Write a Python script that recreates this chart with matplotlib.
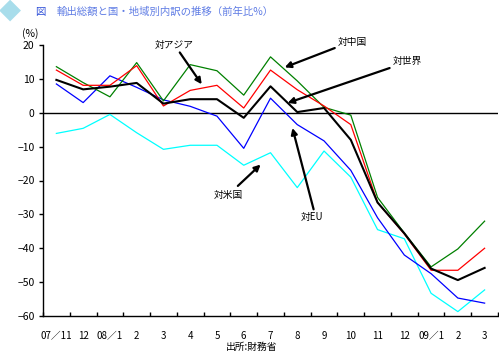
import matplotlib
matplotlib.use('Agg')
import matplotlib.pyplot as plt
import numpy as np

# 日本語フォント
plt.rcParams['font.family'] = ['Noto Sans CJK JP', 'DejaVu Sans']
plt.rcParams['axes.unicode_minus'] = True

# 月ラベル
months = ['07／11', '12', '08／1', '2', '3', '4', '5', '6', '7', '8', '9',
          '10', '11', '12', '09／1', '2', '3']

# 前年比(%)
china = [13.6, 8.9, 4.7, 14.8, 3.5, 14.2, 12.4, 5.2, 16.5, 9.4, 1.6, -0.7,
         -25.0, -35.5, -45.5, -40.2, -32.0]
asia = [12.6, 8.1, 8.1, 13.9, 2.0, 6.6, 8.1, 1.4, 12.6, 6.8, 2.0, -3.5,
        -26.5, -35.8, -46.5, -46.5, -40.0]
world = [9.7, 6.9, 7.7, 8.8, 2.7, 4.0, 4.0, -1.5, 7.8, 0.2, 1.4, -8.0,
         -26.5, -35.6, -46.0, -49.4, -45.8]
eu = [8.5, 3.0, 10.9, 7.5, 3.8, 1.9, -1.0, -10.5, 4.3, -3.5, -8.3, -17.0,
      -31.0, -42.0, -47.5, -54.7, -56.2]
usa = [-6.1, -4.6, -0.5, -5.9, -10.8, -9.6, -9.6, -15.5, -11.8, -22.1, -11.3,
       -19.0, -34.5, -37.2, -53.3, -58.7, -52.3]

x = np.arange(len(months))

fig = plt.figure(figsize=(4.99, 3.52), dpi=100)
ax = fig.add_axes([43 / 499, 36 / 352, 455 / 499, 271 / 352])

ax.axhline(0, color='black', lw=1.0, zorder=1)
ax.plot(x, usa, color='#00FFFF', lw=0.9, zorder=2)
ax.plot(x, eu, color='#0000FF', lw=0.9, zorder=3)
ax.plot(x, china, color='#008000', lw=0.9, zorder=4)
ax.plot(x, asia, color='#FF0000', lw=0.9, zorder=5)
ax.plot(x, world, color='black', lw=1.5, zorder=6)

ax.set_xlim(-0.5, len(months) - 0.5)
ax.set_ylim(-60, 20)
ax.set_yticks(np.arange(-60, 21, 10))
ax.set_xticks(x)
ax.set_xticklabels(months)
ax.set_xticks(np.arange(-0.5, len(months), 1.0), minor=True)
ax.tick_params(axis='x', which='major', length=0, pad=11, labelsize=7)
ax.tick_params(axis='x', which='minor', direction='in', length=3, width=1)
ax.tick_params(axis='y', direction='out', length=3, width=1, pad=3, labelsize=7.5)

for s in ['top', 'right']:
    ax.spines[s].set_visible(False)
for s in ['left', 'bottom']:
    ax.spines[s].set_linewidth(1.0)

# 注記と矢印
labels = [
    ('対アジア', (4.39, 19.9), (4.61, 17.8), (5.43, 8.4)),
    ('対中国', (11.07, 21.0), (10.4, 19.1), (8.53, 13.4)),
    ('対世界', (13.12, 15.2), (12.45, 13.2), (8.64, 2.9)),
    ('対EU', (9.57, -30.8), (9.61, -28.5), (8.82, -4.5)),
    ('対米国', (6.41, -24.3), (6.78, -21.6), (7.63, -15.3)),
]
for name, tpos, tail, head in labels:
    ax.text(tpos[0], tpos[1], name, ha='center', va='center', fontsize=7,
            clip_on=False, zorder=10)
    ax.annotate('', xy=head, xytext=tail, annotation_clip=False,
                arrowprops=dict(arrowstyle='-|>', color='black', lw=1.6,
                                mutation_scale=9, shrinkA=0, shrinkB=0),
                zorder=10)

fig.text(22 / 499, 1 - 34 / 352, '(%)', fontsize=7.5, ha='left', va='center')
fig.text(252 / 499, 1 - 347 / 352, '出所:財務省', fontsize=7, ha='center', va='center')

# タイトル
fig.text(10 / 499, 1 - 12 / 352, '◆', fontsize=16, color='#A8DDEB',
         ha='center', va='center')
fig.text(35 / 499, 1 - 12 / 352, '図', fontsize=7.5, color='#3050D8',
         ha='left', va='center')
fig.text(57 / 499, 1 - 12 / 352, '輸出総額と国・地域別内訳の推移（前年比%）',
         fontsize=7.5, color='#4466E0', alpha=0.85, ha='left', va='center')

fig.savefig('out.png', dpi=100, facecolor='white')
